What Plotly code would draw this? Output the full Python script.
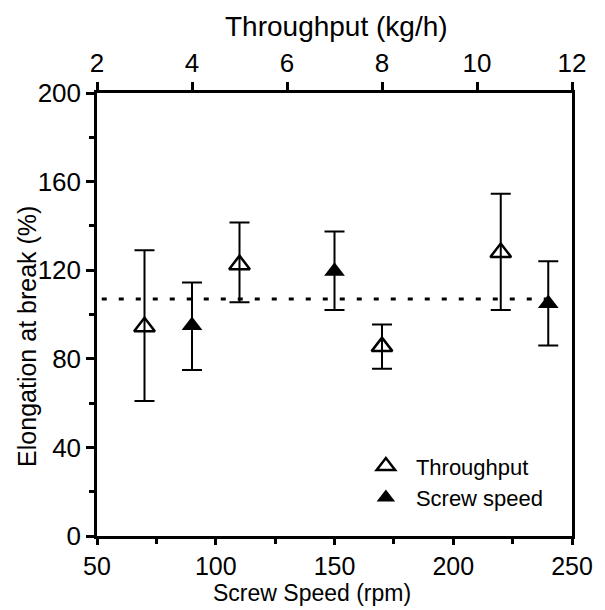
import plotly.graph_objects as go

# Throughput series (top axis, kg/h)
throughput = [3, 5, 8, 10.5]
tp_elong = [94.5, 122.5, 85.5, 128]
tp_upper = [129, 141.5, 95.5, 154.5]
tp_lower = [61, 105.5, 75.5, 102]

# Screw speed series (bottom axis, rpm)
screw_speed = [90, 150, 240]
ss_elong = [95, 119.5, 105]
ss_upper = [114.5, 137.5, 124]
ss_lower = [75, 102, 86]

# Average line
avg_x = [52, 245]
avg_y = [107, 107]

FONT = "Liberation Sans, Arial, sans-serif"

fig = go.Figure()

fig.add_trace(go.Scatter(
    x=avg_x, y=avg_y, mode="lines", showlegend=False,
    line=dict(color="black", width=3, dash="5px,12px"),
    xaxis="x", yaxis="y"))

fig.add_trace(go.Scatter(
    x=throughput, y=tp_elong, mode="markers", name="Throughput",
    marker=dict(symbol="triangle-up-open", size=18, color="black",
                line=dict(width=2.5, color="black")),
    error_y=dict(type="data", symmetric=False,
                 array=[u - v for u, v in zip(tp_upper, tp_elong)],
                 arrayminus=[v - l for v, l in zip(tp_elong, tp_lower)],
                 color="black", thickness=2, width=10),
    xaxis="x2", yaxis="y"))

fig.add_trace(go.Scatter(
    x=screw_speed, y=ss_elong, mode="markers", name="Screw speed",
    marker=dict(symbol="triangle-up", size=18, color="black"),
    error_y=dict(type="data", symmetric=False,
                 array=[u - v for u, v in zip(ss_upper, ss_elong)],
                 arrayminus=[v - l for v, l in zip(ss_elong, ss_lower)],
                 color="black", thickness=2, width=10),
    xaxis="x", yaxis="y"))

axis_common = dict(showgrid=False, zeroline=False, showline=True,
                   linecolor="black", linewidth=2.5, ticks="outside",
                   tickcolor="black", tickwidth=2.5)

fig.update_layout(
    width=605, height=610,
    margin=dict(l=97, r=24, t=93, b=74),
    paper_bgcolor="white", plot_bgcolor="white",
    font=dict(family=FONT, color="black"),
    xaxis=dict(range=[50, 250], tickvals=[50, 100, 150, 200, 250], ticklen=6,
               tickfont=dict(family=FONT, size=25, color="black"),
               minor=dict(dtick=25, tick0=50, ticks="outside", ticklen=5,
                          tickwidth=2.5, tickcolor="black"),
               **axis_common),
    xaxis2=dict(range=[2, 12], overlaying="x", side="top", ticklen=8,
                tickfont=dict(family=FONT, size=26, color="black"),
                tickvals=[2, 4, 6, 8, 10, 12], **axis_common),
    yaxis=dict(range=[0, 200], tickvals=[0, 40, 80, 120, 160, 200],
               mirror=True, ticklen=8,
               tickfont=dict(family=FONT, size=26, color="black"),
               minor=dict(dtick=20, tick0=0, ticks="outside", ticklen=5,
                          tickwidth=2.5, tickcolor="black"),
               **axis_common),
    legend=dict(x=0.545, y=0.205, xanchor="left", yanchor="top",
                bgcolor="rgba(0,0,0,0)", itemwidth=50,
                font=dict(family=FONT, size=22, color="black")),
    annotations=[
        dict(text="Throughput (kg/h)", xref="paper", yref="paper",
             x=0.504, y=1.151, xanchor="center", yanchor="middle",
             showarrow=False, font=dict(family=FONT, size=28, color="black")),
        dict(text="Screw Speed (rpm)", xref="paper", yref="paper",
             x=0.452, y=-0.128, xanchor="center", yanchor="middle",
             showarrow=False, font=dict(family=FONT, size=23, color="black")),
        dict(text="Elongation at break (%)", xref="paper", yref="paper",
             x=-0.149, y=0.45, xanchor="center", yanchor="middle",
             textangle=-90,
             showarrow=False, font=dict(family=FONT, size=25, color="black")),
    ],
)

fig.write_html("out.html")
